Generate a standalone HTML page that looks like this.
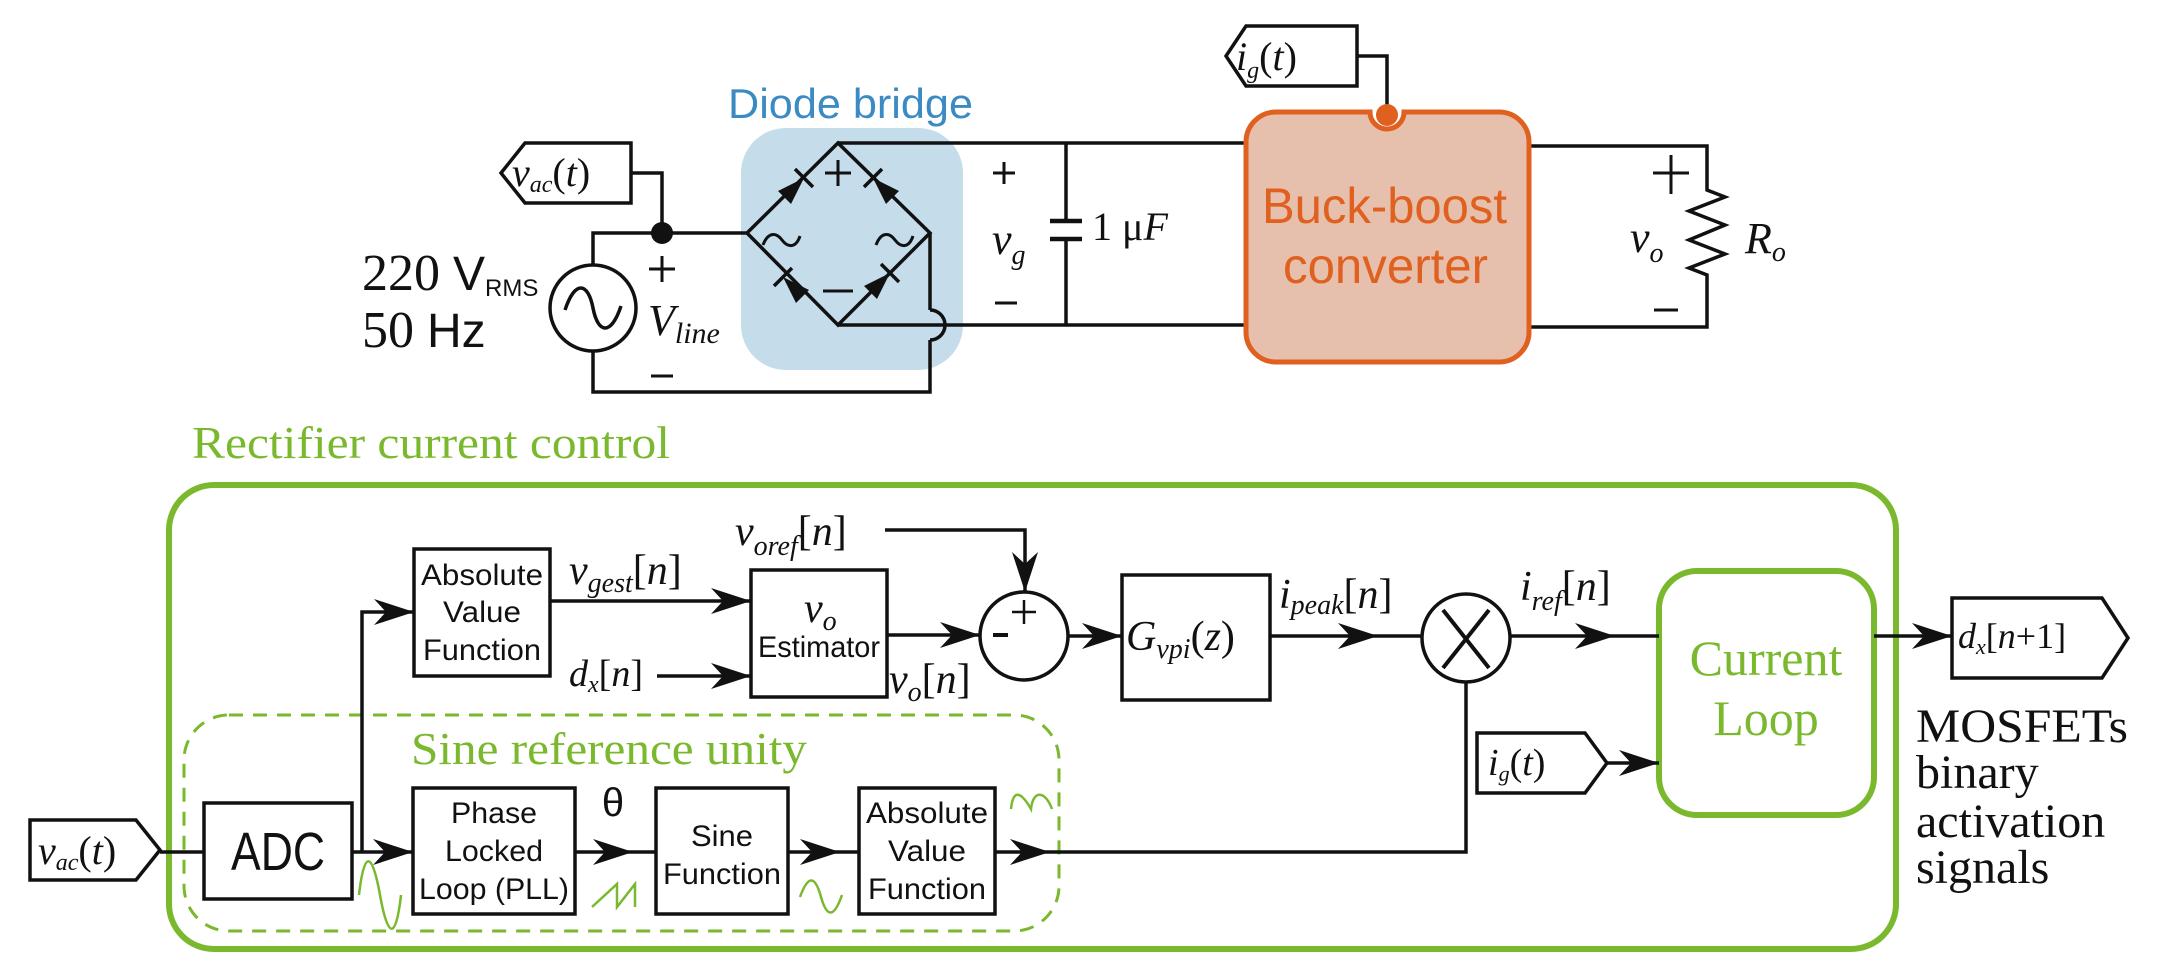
<!DOCTYPE html>
<html><head><meta charset="utf-8"><style>
html,body{margin:0;padding:0;background:#fff}
svg{display:block}
.m{font-family:"Liberation Serif",serif;font-style:italic;fill:#111}
.r{font-family:"Liberation Serif",serif;fill:#111}
.s{font-family:"Liberation Sans",sans-serif;fill:#111}
</style></head><body>
<svg width="2164" height="980" viewBox="0 0 2164 980" xmlns="http://www.w3.org/2000/svg">
<defs>
<path id="ah" d="M0,0 L-40,-13 L-28,0 L-40,13 Z" fill="#111"/>
</defs>
<rect x="741" y="128" width="222" height="242" rx="45" fill="#c5dcea" stroke="none"/>
<text x="728" y="118" class="s" font-size="42" style="fill:#3a8ac4" textLength="245" lengthAdjust="spacingAndGlyphs">Diode bridge</text>

<g fill="none" stroke="#111" stroke-width="3.5" stroke-linejoin="miter">
<path d="M525,143 L631,143 L631,203 L525,203 L501,173 Z" fill="#fff"/>
<path d="M631,173 L662,173 L662,233"/>
<path d="M593,265 L593,233 L747,233"/>
<path d="M593,352 L593,392 L930,392 L930,340"/>
<path d="M930,310 L930,233"/>
<path d="M930,310 A15,15 0 0 1 930,340"/>
<circle cx="593" cy="308" r="43"/>
<path d="M565,310 C575,280 588,282 593,308 C598,334 611,336 621,306"/>
<path d="M747,233 L838,143 L930,233 L838,325 Z"/>
<path d="M838,143 L1246,143"/>
<path d="M838,325 L1246,325"/>
<path d="M813,187 L795,169 M882,169 L864,187 M792,268 L774,286 M899,282 L881,264"/>
<path d="M1066,143 L1066,221 M1066,239 L1066,325"/>
<path d="M1050,221 L1082,221 M1050,239 L1082,239" stroke-width="4.5"/>
<path d="M825,173 L851,173 M838,160 L838,186" stroke-width="3"/>
<path d="M823,291 L853,291" stroke-width="3"/>
<path d="M649,269 L675,269 M662,256 L662,282" stroke-width="3"/>
<path d="M651,376 L673,376" stroke-width="3"/>
<path d="M993,173 L1015,173 M1004,162 L1004,184" stroke-width="3"/>
<path d="M995,303 L1017,303" stroke-width="3"/>
<path d="M1653,173 L1689,173 M1671,155 L1671,194" stroke-width="3"/>
<path d="M1654,310 L1678,310" stroke-width="3"/>
<path d="M1246,26 L1357,26 L1357,86 L1246,86 L1226,56 Z" fill="#fff"/>
<path d="M1357,56 L1387,56 L1387,112"/>
<path d="M1529,146 L1707,146 L1707,190 L1725,197 L1689,211 L1725,225 L1689,240 L1725,254 L1689,268 L1707,275 L1707,327 L1529,327"/>
</g>
<circle cx="662" cy="233" r="11" fill="#111"/>
<g fill="#111">
<path d="M804,178 L791,204 L778,191 Z"/>
<path d="M873,178 L899,191 L886,204 Z"/>
<path d="M783,277 L809,290 L796,303 Z"/>
<path d="M890,273 L877,299 L864,286 Z"/>
</g>
<path d="M763,245 C768,232 776,232 782,240 C788,248 796,248 800,236" fill="none" stroke="#111" stroke-width="3"/>
<path d="M876,245 C881,232 889,232 895,240 C901,248 909,248 913,236" fill="none" stroke="#111" stroke-width="3"/>
<path d="M1276,112 L1370,112 A17,17 0 0 0 1404,112 L1499,112 A30,30 0 0 1 1529,142 L1529,332 A30,30 0 0 1 1499,362 L1276,362 A30,30 0 0 1 1246,332 L1246,142 A30,30 0 0 1 1276,112 Z" fill="#e6c0ac" stroke="#e06020" stroke-width="5"/>
<circle cx="1387" cy="115" r="11" fill="#e06020"/>
<text x="1262" y="223" class="s" font-size="50" style="fill:#e06020" textLength="245" lengthAdjust="spacingAndGlyphs">Buck-boost</text>
<text x="1283" y="283" class="s" font-size="50" style="fill:#e06020" textLength="205" lengthAdjust="spacingAndGlyphs">converter</text>
<text x="512" y="186" class="m" font-size="40">v<tspan font-size="24" dy="6">ac</tspan><tspan dy="-6" font-style="normal">(</tspan>t<tspan font-style="normal">)</tspan></text>
<text x="1236" y="70" class="m" font-size="40">i<tspan font-size="24" dy="8">g</tspan><tspan dy="-8" font-style="normal">(</tspan>t<tspan font-style="normal">)</tspan></text>
<text x="362" y="290" class="r" font-size="52">220 <tspan font-family="Liberation Sans" font-size="48">V</tspan><tspan font-family="Liberation Sans" font-size="24" dy="6">RMS</tspan></text>
<text x="362" y="347" class="r" font-size="52">50 <tspan font-family="Liberation Sans" font-size="48">Hz</tspan></text>
<text x="648" y="335" class="m" font-size="44">V<tspan font-size="30" dy="8">line</tspan></text>
<text x="992" y="254" class="m" font-size="44">v<tspan font-size="28" dy="10">g</tspan></text>
<text x="1092" y="240" class="m" font-size="40"><tspan font-style="normal">1 μ</tspan>F</text>
<text x="1630" y="252" class="m" font-size="44">v<tspan font-size="28" dy="10">o</tspan></text>
<text x="1745" y="253" class="m" font-size="44">R<tspan font-size="28" dy="8">o</tspan></text>
<text x="192" y="458" class="r" font-size="46" style="fill:#7ab82e" textLength="478" lengthAdjust="spacingAndGlyphs">Rectifier current control</text>

<rect x="169" y="485" width="1727" height="464" rx="45" fill="none" stroke="#7ab82e" stroke-width="6"/>
<rect x="184" y="715" width="875" height="216" rx="45" fill="none" stroke="#7ab82e" stroke-width="3" stroke-dasharray="14,10"/>
<rect x="1659" y="571" width="215" height="244" rx="38" fill="#fff" stroke="#7ab82e" stroke-width="6"/>
<text x="1766" y="675" class="r" font-size="50" text-anchor="middle" style="fill:#7ab82e">Current</text>
<text x="1766" y="735" class="r" font-size="50" text-anchor="middle" style="fill:#7ab82e">Loop</text>
<text x="411" y="764" class="r" font-size="46" style="fill:#7ab82e" textLength="396" lengthAdjust="spacingAndGlyphs">Sine reference unity</text>

<g fill="none" stroke="#111" stroke-width="3.5">
<rect x="414" y="549" width="136" height="127" fill="#fff"/>
<rect x="751" y="570" width="136" height="127" fill="#fff"/>
<circle cx="1024" cy="636" r="44" fill="#fff"/>
<rect x="1122" y="575" width="148" height="125" fill="#fff"/>
<circle cx="1466" cy="638" r="44" fill="#fff"/>
<rect x="204" y="803" width="148" height="96" fill="#fff"/>
<rect x="413" y="788" width="162" height="126" fill="#fff"/>
<rect x="656" y="788" width="132" height="126" fill="#fff"/>
<rect x="859" y="788" width="136" height="126" fill="#fff"/>
<path d="M30,820 L136,820 L160,850 L136,880 L30,880 Z" fill="#fff"/>
<path d="M1952,598 L2102,598 L2128,638 L2102,678 L1952,678 Z" fill="#fff"/>
<path d="M1477,733 L1585,733 L1607,763 L1585,793 L1477,793 Z" fill="#fff"/>
<path d="M160,852 L204,852"/>
<path d="M352,852 L413,852"/>
<path d="M362,852 L362,612 L414,612"/>
<path d="M550,601 L751,601"/>
<path d="M657,676 L751,676"/>
<path d="M887,635 L980,635"/>
<path d="M885,530 L1025,530 L1025,592"/>
<path d="M1068,636 L1122,636"/>
<path d="M1270,636 L1422,636"/>
<path d="M1510,636 L1659,636"/>
<path d="M1874,636 L1952,636"/>
<path d="M1607,763 L1659,763"/>
<path d="M575,852 L656,852"/>
<path d="M788,852 L859,852"/>
<path d="M995,852 L1466,852 L1466,682"/>
<path d="M1012,612 L1036,612 M1024,600 L1024,624" stroke-width="2.5"/>
<path d="M993,635 L1008,635" stroke-width="4"/>
<path d="M1443,610 L1489,668 M1489,610 L1443,668" stroke-width="4"/>
</g>
<use href="#ah" transform="translate(414,612)"/>
<use href="#ah" transform="translate(751,601)"/>
<use href="#ah" transform="translate(751,676)"/>
<use href="#ah" transform="translate(980,635)"/>
<use href="#ah" transform="translate(1025,592) rotate(90)"/>
<use href="#ah" transform="translate(1122,636)"/>
<use href="#ah" transform="translate(1378,636)"/>
<use href="#ah" transform="translate(1615,636)"/>
<use href="#ah" transform="translate(1952,636)"/>
<use href="#ah" transform="translate(1659,763)"/>
<use href="#ah" transform="translate(413,852)"/>
<use href="#ah" transform="translate(633,852)"/>
<use href="#ah" transform="translate(840,852)"/>
<use href="#ah" transform="translate(1050,852)"/>
<g fill="none" stroke="#7ab82e" stroke-width="2.5">
<path d="M359,895 C364,850 372,850 380,895 C388,940 396,940 401,895"/>
<path d="M592,907 L617,884 L617,907 L635,884 L635,907"/>
<path d="M800,897 C808,875 815,875 821,897 C827,918 834,918 842,895"/>
<path d="M1011,809 C1013,790 1020,790 1031,809 C1033,790 1045,790 1052,809"/>
</g>
<g class="s" font-size="30" text-anchor="middle" lengthAdjust="spacingAndGlyphs">
<text x="482" y="585" textLength="122" lengthAdjust="spacingAndGlyphs">Absolute</text>
<text x="482" y="622" textLength="78" lengthAdjust="spacingAndGlyphs">Value</text>
<text x="482" y="660" textLength="118" lengthAdjust="spacingAndGlyphs">Function</text>
<text x="819" y="657" textLength="122" lengthAdjust="spacingAndGlyphs">Estimator</text>
<text x="278" y="870" font-size="54" textLength="94" lengthAdjust="spacingAndGlyphs">ADC</text>
<text x="494" y="823" textLength="86" lengthAdjust="spacingAndGlyphs">Phase</text>
<text x="494" y="861" textLength="98" lengthAdjust="spacingAndGlyphs">Locked</text>
<text x="494" y="899" textLength="150" lengthAdjust="spacingAndGlyphs">Loop (PLL)</text>
<text x="722" y="846" textLength="62" lengthAdjust="spacingAndGlyphs">Sine</text>
<text x="722" y="884" textLength="118" lengthAdjust="spacingAndGlyphs">Function</text>
<text x="927" y="823" textLength="122" lengthAdjust="spacingAndGlyphs">Absolute</text>
<text x="927" y="861" textLength="78" lengthAdjust="spacingAndGlyphs">Value</text>
<text x="927" y="899" textLength="118" lengthAdjust="spacingAndGlyphs">Function</text>
<text x="613" y="816" font-size="40">θ</text>
</g>
<text x="804" y="622" class="m" font-size="42">v<tspan font-size="28" dy="8">o</tspan></text>
<text x="569" y="584" class="m" font-size="42">v<tspan font-size="28" dy="8">gest</tspan><tspan font-style="normal" dy="-8">[</tspan>n<tspan font-style="normal">]</tspan></text>
<text x="735" y="545" class="m" font-size="42">v<tspan font-size="28" dy="10">oref</tspan><tspan font-style="normal" dy="-10">[</tspan>n<tspan font-style="normal">]</tspan></text>
<text x="569" y="686" class="m" font-size="38">d<tspan font-size="24" dy="6">x</tspan><tspan font-style="normal" dy="-6">[</tspan>n<tspan font-style="normal">]</tspan></text>
<text x="889" y="693" class="m" font-size="42">v<tspan font-size="28" dy="8">o</tspan><tspan font-style="normal" dy="-8">[</tspan>n<tspan font-style="normal">]</tspan></text>
<text x="1126" y="650" class="m" font-size="42">G<tspan font-size="28" dy="8">vpi</tspan><tspan font-style="normal" dy="-8">(</tspan>z<tspan font-style="normal">)</tspan></text>
<text x="1279" y="608" class="m" font-size="42">i<tspan font-size="28" dy="6">peak</tspan><tspan font-style="normal" dy="-6">[</tspan>n<tspan font-style="normal">]</tspan></text>
<text x="1520" y="600" class="m" font-size="42">i<tspan font-size="28" dy="10">ref</tspan><tspan font-style="normal" dy="-10">[</tspan>n<tspan font-style="normal">]</tspan></text>
<text x="1958" y="648" class="m" font-size="36">d<tspan font-size="22" dy="6">x</tspan><tspan font-style="normal" dy="-6">[</tspan>n<tspan font-style="normal">+1]</tspan></text>
<text x="1488" y="775" class="m" font-size="38">i<tspan font-size="22" dy="6">g</tspan><tspan font-style="normal" dy="-6">(</tspan>t<tspan font-style="normal">)</tspan></text>
<text x="38" y="864" class="m" font-size="40">v<tspan font-size="24" dy="6">ac</tspan><tspan font-style="normal" dy="-6">(</tspan>t<tspan font-style="normal">)</tspan></text>
<g class="r" font-size="48">
<text x="1916" y="742" textLength="212" lengthAdjust="spacingAndGlyphs">MOSFETs</text>
<text x="1916" y="788">binary</text>
<text x="1916" y="837">activation</text>
<text x="1916" y="883">signals</text>
</g>
</svg>
</body></html>
